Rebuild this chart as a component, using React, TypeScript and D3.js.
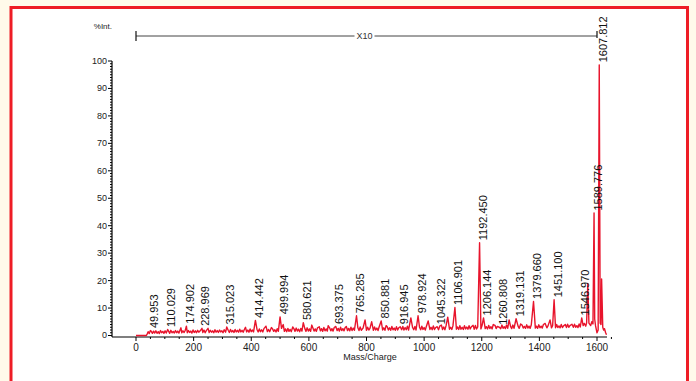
import React from "react";
import * as d3 from "d3";

const labeledPeaks: [number, number][] = [
  [49.953, 1.8], [110.029, 2.2], [174.902, 3.4], [228.969, 2.6], [315.023, 3.1],
  [414.442, 5.5], [499.994, 6.8], [580.621, 4.7], [693.375, 3.3], [765.285, 7.2],
  [850.881, 5.3], [916.945, 3.2], [978.924, 7.2], [1045.322, 3.2], [1106.901, 10.2],
  [1192.45, 33.8], [1206.144, 6.4], [1260.808, 3.0], [1319.131, 6.1], [1379.66, 12.4],
  [1451.1, 13.0], [1546.97, 6.4], [1589.776, 44.6], [1607.812, 98.6],
];

const otherPeaks: [number, number][] = [
  [156, 2.8], [250, 2.6], [380, 3.0], [451, 3.4], [470, 2.9], [511, 4.0], [544, 3.1],
  [610, 3.8], [636, 3.2], [667, 3.6], [730, 3.3], [795, 5.7], [818, 5.0], [868, 3.6],
  [954, 6.4], [1014, 5.3], [1060, 3.8], [1082, 6.7], [1170, 3.7], [1240, 4.0],
  [1295, 5.7], [1335, 4.2], [1420, 4.4], [1437, 5.7], [1490, 4.0], [1513, 4.1],
  [1568, 19.0], [1616, 20.6],
];

const baseline: [number, number][] = [
  [0, 0], [36, 0], [39, 0.6], [42, 1.4], [46, 0.7], [53, 1.5], [57, 0.8], [61, 1.6], [65, 0.9],
  [69, 1.7], [73, 0.8], [77, 1.4], [81, 0.7], [85, 1.8], [89, 1.0], [93, 1.5], [97, 0.8],
  [101, 1.7], [105, 0.9], [113, 1.6], [117, 0.8], [121, 1.9], [125, 1.0], [129, 1.5], [133, 0.9],
  [137, 1.8], [141, 1.0], [145, 1.6], [149, 0.9], [153, 2.0], [159, 1.0], [163, 1.7], [167, 1.1],
  [171, 1.9], [178, 1.0], [182, 1.8], [186, 1.1], [190, 1.6], [194, 0.9], [198, 2.0], [202, 1.1],
  [206, 1.7], [210, 1.0], [214, 1.9], [218, 1.2], [222, 1.6], [232, 1.1], [236, 2.0], [240, 1.0],
  [244, 1.8], [254, 1.1], [258, 1.9], [262, 1.2], [266, 1.7], [270, 1.0], [274, 2.1], [278, 1.2],
  [282, 1.8], [286, 1.1], [290, 2.0], [294, 1.3], [298, 1.7], [302, 1.0], [306, 2.1], [311, 1.2],
  [320, 1.9], [324, 1.1], [328, 2.2], [332, 1.3], [336, 1.8], [340, 1.1], [344, 2.2], [348, 1.3],
  [352, 1.9], [356, 1.2], [360, 2.3], [364, 1.3], [368, 1.9], [372, 1.2], [376, 2.2], [384, 1.3],
  [388, 2.0], [392, 1.2], [396, 2.4], [400, 1.4], [404, 2.0], [408, 1.3], [420, 2.2], [424, 1.3],
  [428, 2.4], [432, 1.4], [436, 2.1], [440, 1.3], [444, 2.5], [456, 1.4], [460, 2.2], [464, 1.4],
  [474, 2.4], [478, 1.5], [482, 2.1], [486, 1.3], [490, 2.5], [494, 1.5], [505, 2.6], [515, 1.5],
  [519, 2.4], [523, 1.4], [527, 2.6], [531, 1.5], [535, 2.2], [539, 1.4], [548, 2.5], [552, 1.5],
  [556, 2.7], [560, 1.6], [564, 2.3], [568, 1.4], [572, 2.6], [576, 1.6], [586, 2.5], [590, 1.5],
  [594, 2.8], [598, 1.6], [602, 2.4], [606, 1.5], [614, 2.7], [618, 1.6], [622, 2.4], [626, 1.5],
  [630, 2.8], [640, 1.7], [644, 2.5], [648, 1.5], [652, 2.9], [656, 1.7], [660, 2.4], [664, 1.6],
  [672, 2.8], [676, 1.7], [680, 2.5], [684, 1.6], [688, 2.9], [698, 1.8], [702, 2.6], [706, 1.6],
  [710, 3.0], [714, 1.8], [718, 2.5], [722, 1.7], [726, 2.9], [734, 1.8], [738, 2.6], [742, 1.7],
  [746, 3.0], [750, 1.8], [754, 2.7], [758, 1.9], [770, 2.8], [774, 1.8], [778, 3.1], [782, 1.9],
  [788, 2.7], [800, 1.9], [804, 3.0], [808, 2.0], [812, 2.6], [824, 1.9], [828, 3.1], [832, 2.0],
  [836, 2.7], [840, 1.8], [844, 3.2], [856, 2.0], [860, 2.8], [864, 1.9], [872, 3.2], [876, 2.0],
  [880, 2.8], [884, 1.9], [888, 3.3], [892, 2.1], [896, 2.7], [900, 1.9], [904, 3.2], [908, 2.0],
  [912, 2.8], [922, 2.1], [926, 3.3], [930, 2.0], [934, 2.9], [938, 2.1], [942, 3.4], [946, 2.0],
  [960, 2.9], [964, 2.1], [968, 3.3], [972, 2.0], [984, 3.0], [988, 2.1], [992, 3.4], [996, 2.2],
  [1000, 2.9], [1004, 2.0], [1008, 3.4], [1020, 2.2], [1024, 3.0], [1028, 2.1], [1032, 3.5],
  [1036, 2.2], [1040, 2.9], [1050, 2.1], [1054, 3.4], [1064, 2.2], [1068, 3.1], [1072, 2.1],
  [1076, 3.5], [1088, 2.3], [1092, 3.0], [1096, 2.2], [1100, 3.5], [1112, 2.3], [1116, 3.1],
  [1120, 2.2], [1124, 3.6], [1128, 2.3], [1132, 3.0], [1136, 2.2], [1140, 3.6], [1144, 2.4],
  [1148, 3.1], [1152, 2.3], [1156, 3.6], [1160, 2.4], [1164, 3.2], [1174, 2.3], [1178, 3.7],
  [1182, 2.4], [1186, 3.1], [1197, 2.4], [1201, 3.6], [1212, 2.5], [1216, 3.2], [1220, 2.4],
  [1224, 3.7], [1228, 2.5], [1232, 3.2], [1236, 2.4], [1246, 3.7], [1250, 2.5], [1254, 3.3],
  [1266, 2.5], [1270, 3.8], [1274, 2.6], [1278, 3.2], [1282, 2.5], [1286, 3.8], [1290, 2.6],
  [1300, 3.3], [1304, 2.5], [1308, 3.8], [1312, 2.6], [1326, 3.4], [1330, 2.6], [1340, 3.8],
  [1344, 2.7], [1348, 3.3], [1352, 2.6], [1356, 3.9], [1360, 2.7], [1364, 3.4], [1368, 2.6],
  [1372, 3.9], [1386, 2.7], [1390, 3.4], [1394, 2.6], [1398, 3.9], [1402, 2.8], [1406, 3.4],
  [1410, 2.7], [1414, 4.0], [1426, 2.8], [1430, 3.5], [1442, 2.8], [1446, 3.6], [1456, 2.8],
  [1460, 4.0], [1464, 2.9], [1468, 3.5], [1472, 2.8], [1476, 4.0], [1480, 2.9], [1484, 3.5],
  [1494, 2.9], [1498, 4.1], [1502, 3.0], [1506, 3.6], [1518, 3.0], [1522, 4.1], [1526, 3.0],
  [1530, 3.6], [1534, 2.9], [1538, 4.2], [1542, 3.1], [1552, 3.6], [1556, 4.4], [1561, 3.4],
  [1564, 4.6], [1572, 4.5], [1578, 3.6], [1582, 5.0], [1586, 4.2], [1592, 6.0], [1595, 3.5],
  [1600, 1.0], [1604, 2.0], [1611, 4.5], [1614, 4.0], [1620, 3.0], [1623, 2.0], [1626, 2.5],
  [1630, 1.0], [1633, 0.3],
];

const xTicks = [0, 200, 400, 600, 800, 1000, 1200, 1400, 1600];
const yTicks = [0, 10, 20, 30, 40, 50, 60, 70, 80, 90, 100];
const xTitle = "Mass/Charge";
const yTitle = "%Int.";
const magnifyLabel = "X10";
const magnifyRange: [number, number] = [0, 1600];

export default function App() {
  const W = 696;
  const H = 381;
  const x = d3.scaleLinear().domain([0, 1600]).range([136, 597]);
  const y = d3.scaleLinear().domain([0, 100]).range([335.5, 61]);
  const axisY = 337;
  const axisX = 112;
  const font = "'Liberation Sans', Arial, Helvetica, sans-serif";

  const all = [...baseline, ...otherPeaks, ...labeledPeaks].sort((a, b) => a[0] - b[0]);
  const line = d3
    .line<[number, number]>()
    .x((d) => x(d[0]))
    .y((d) => y(d[1]));

  const yMinor = d3.range(0, 101, 1);
  const xMinor = d3.range(0, 1651, 50);

  const bx0 = x(magnifyRange[0]);
  const bx1 = x(magnifyRange[1]);
  const bmid = (bx0 + bx1) / 2 - 2;
  const by = 36;

  return (
    <svg
      width={W}
      height={H}
      style={{ position: "fixed", left: 0, top: 0, display: "block" }}
      fontFamily={font}
    >
      <rect x={0} y={0} width={W} height={H} fill="#fffaea" />
      <rect x={11} y={7.5} width={676.5} height={400} fill="#ffffff" stroke="#ee1c25" strokeWidth={3} />

      {/* y axis */}
      <line x1={axisX} x2={axisX} y1={y(100)} y2={axisY} stroke="#000" strokeWidth={1.2} />
      {yMinor.map((t) => (
        <line key={"ym" + t} x1={axisX - (t % 10 === 0 ? 4 : 2)} x2={axisX} y1={y(t)} y2={y(t)} stroke="#000" strokeWidth={1} />
      ))}
      {yTicks.map((t) => (
        <text key={"yl" + t} x={107} y={y(t)} dy="0.33em" fontSize={9} textAnchor="end" fill="#222">
          {t}
        </text>
      ))}
      <text x={112} y={29} fontSize={8} textAnchor="end" fill="#222">
        {yTitle}
      </text>

      {/* x axis */}
      <line x1={axisX} x2={607} y1={axisY} y2={axisY} stroke="#000" strokeWidth={1.2} />
      {xMinor.map((t) => (
        <line key={"xm" + t} x1={x(t)} x2={x(t)} y1={axisY} y2={axisY + (t % 200 === 0 ? 4 : 2)} stroke="#000" strokeWidth={1} />
      ))}
      {xTicks.map((t) => (
        <text key={"xl" + t} x={x(t)} y={351} fontSize={10} textAnchor="middle" fill="#222">
          {t}
        </text>
      ))}
      <text x={370} y={360} fontSize={9} textAnchor="middle" fill="#222">
        {xTitle}
      </text>

      {/* magnification bracket */}
      <line x1={bx0} x2={bmid - 10} y1={by} y2={by} stroke="#444" strokeWidth={1} />
      <line x1={bmid + 10} x2={bx1} y1={by} y2={by} stroke="#444" strokeWidth={1} />
      <line x1={bx0} x2={bx0} y1={by - 5} y2={by + 5} stroke="#111" strokeWidth={1.2} />
      <line x1={bx1} x2={bx1} y1={by - 5} y2={by + 2} stroke="#111" strokeWidth={1.2} />
      <text x={bmid} y={by} dy="0.35em" fontSize={9} textAnchor="middle" fill="#333">
        {magnifyLabel}
      </text>

      {/* spectrum */}
      <path d={line(all) || ""} fill="none" stroke="#e8142c" strokeWidth={1.4} strokeLinejoin="round" />

      {/* peak labels */}
      {labeledPeaks.map(([m, v]) => (
        <text
          key={"pl" + m}
          transform={`translate(${x(m) + 7.5},${y(v) - 2.5}) rotate(-90)`}
          fontSize={11}
          fill="#111"
        >
          {m.toFixed(3)}
        </text>
      ))}
    </svg>
  );
}
